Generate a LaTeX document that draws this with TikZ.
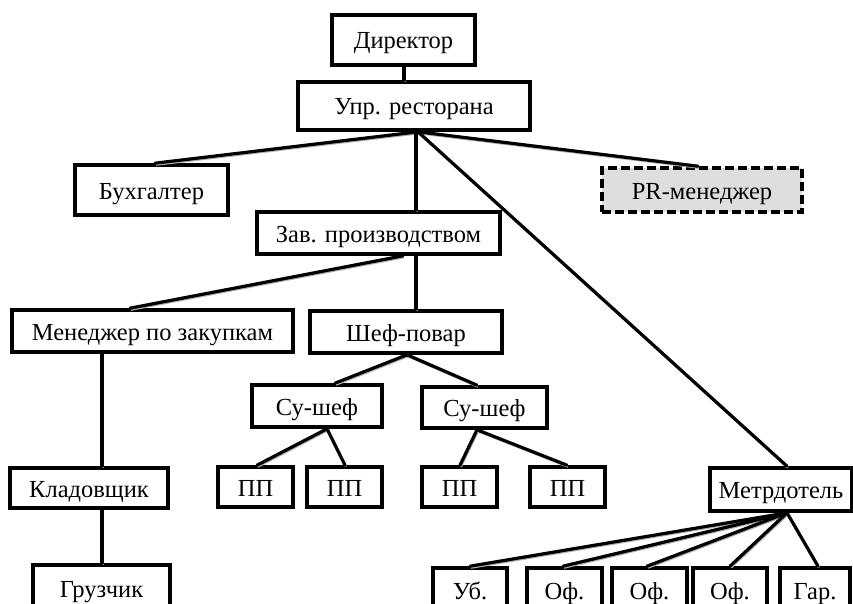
\documentclass[tikz,border=0pt]{standalone}
\usepackage{fontspec}
\setmainfont{Liberation Serif}
\usetikzlibrary{calc}
\begin{document}
\begin{tikzpicture}[x=1pt,y=-1pt,
  box/.style={draw=black, line width=3.6pt, fill=white, inner sep=0pt,
    font=\fontsize{24.5}{28}\selectfont, text height=20pt, text depth=2pt},
  prbox/.style={box, fill=black!13, dash pattern=on 9pt off 4pt},
  link/.style={line width=3.2pt, line cap=round,
    preaction={draw=black!30, line width=2.4pt,
      transform canvas={shift={(0.9pt,-1.4pt)}}}}]
\clip (0,0) rectangle (853,604);
\useasboundingbox (0,0) rectangle (853,604);

% top management
\node[box, minimum width=143pt, minimum height=50pt] (dir) at (403.5,40) {Директор};
\node[box, minimum width=232pt, minimum height=48pt] (upr) at (414,106) {Упр. ресторана};
\node[box, minimum width=153pt, minimum height=50pt] (buh) at (151.5,190) {Бухгалтер};
\node[prbox, minimum width=200pt, minimum height=44pt] (pr) at (702,190) {PR-менеджер};
\node[box, minimum width=243pt, minimum height=42pt] (zav) at (378.5,233) {Зав. производством};

% production branch
\node[box, minimum width=281pt, minimum height=42pt] (men) at (152.5,331) {Менеджер по закупкам};
\node[box, minimum width=192pt, minimum height=42pt] (shef) at (406,332) {Шеф-повар};
\node[box, minimum width=130pt, minimum height=42pt] (su1) at (317,406) {Су-шеф};
\node[box, minimum width=125pt, minimum height=41pt] (su2) at (484.5,407.5) {Су-шеф};
\node[box, minimum width=75pt, minimum height=40pt] (pp1) at (255.5,487) {ПП};
\node[box, minimum width=75pt, minimum height=40pt] (pp2) at (344.5,487) {ПП};
\node[box, minimum width=75pt, minimum height=40pt] (pp3) at (459.5,487) {ПП};
\node[box, minimum width=75pt, minimum height=40pt] (pp4) at (567.5,487) {ПП};

% storage branch
\node[box, minimum width=158pt, minimum height=40pt] (klad) at (89,488) {Кладовщик};
\node[box, minimum width=137pt, minimum height=46pt] (gruz) at (101.5,588) {Грузчик};

% hall branch
\node[box, minimum width=142pt, minimum height=43pt] (metr) at (781,489.5) {Метрдотель};
\node[box, minimum width=74pt, minimum height=44pt] (ub) at (470,590) {Уб.};
\node[box, minimum width=75pt, minimum height=44pt] (of1) at (564.5,590) {Оф.};
\node[box, minimum width=75pt, minimum height=44pt] (of2) at (649.5,590) {Оф.};
\node[box, minimum width=74pt, minimum height=44pt] (of3) at (730,590) {Оф.};
\node[box, minimum width=70pt, minimum height=44pt] (gar) at (815,590) {Гар.};

% hubs where connectors meet
\coordinate (uprhub) at (418,0 |- upr.south);
\coordinate (metrhub) at (787,0 |- metr.south);

% connectors
\draw[link] (404,0 |- dir.south) -- (404,0 |- upr.north);
\draw[link] (uprhub) -- (155,0 |- buh.north);
\draw[link] (uprhub) -- (698,0 |- pr.north);
\draw[link] (416,0 |- upr.south) -- (416,0 |- zav.north);
\draw[link] (uprhub) -- (787,0 |- metr.north);

\draw[link] (403,0 |- zav.south) -- (130,0 |- men.north);
\draw[link] (416,0 |- zav.south) -- (416,0 |- shef.north);

\draw[link] (407,0 |- shef.south) -- (335,0 |- su1.north);
\draw[link] (407,0 |- shef.south) -- (477,0 |- su2.north);
\draw[link] (327,0 |- su1.south) -- (257,0 |- pp1.north);
\draw[link] (327,0 |- su1.south) -- (345,0 |- pp2.north);
\draw[link] (477,0 |- su2.south) -- (460,0 |- pp3.north);
\draw[link] (477,0 |- su2.south) -- (567,0 |- pp4.north);

\draw[link] (102,0 |- men.south) -- (102,0 |- klad.north);
\draw[link] (102,0 |- klad.south) -- (102,0 |- gruz.north);

\draw[link] (metrhub) -- (470,0 |- ub.north);
\draw[link] (metrhub) -- (563,0 |- of1.north);
\draw[link] (metrhub) -- (647,0 |- of2.north);
\draw[link] (metrhub) -- (730,0 |- of3.north);
\draw[link] (metrhub) -- (818,0 |- gar.north);
\end{tikzpicture}
\end{document}
